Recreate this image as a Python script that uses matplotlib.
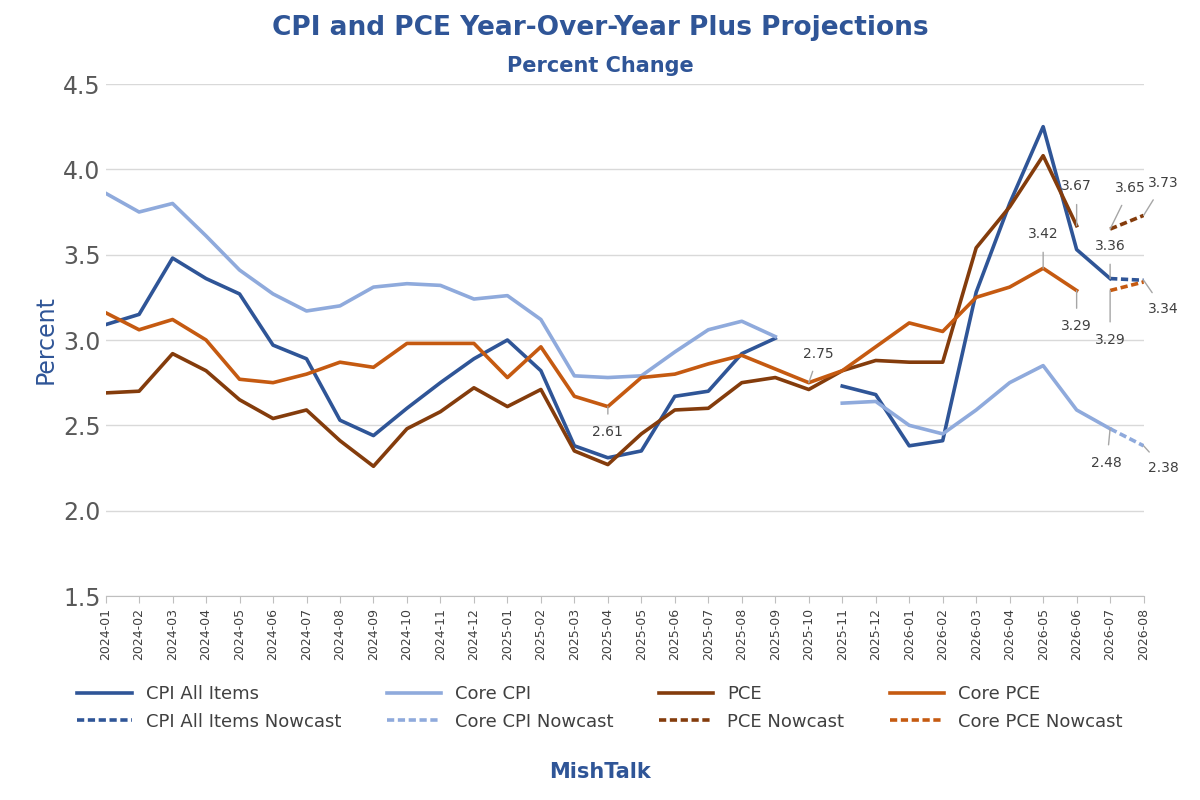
import matplotlib
matplotlib.use("Agg")
import matplotlib.pyplot as plt
import numpy as np

months = [f"{y}-{m:02d}" for y in (2024, 2025, 2026) for m in range(1, 13)][:32]
nan = np.nan
cpi = [3.09,3.15,3.48,3.36,3.27,2.97,2.89,2.53,2.44,2.60,2.75,2.89,3.00,2.82,2.38,2.31,2.35,2.67,2.70,2.92,3.01,nan,2.73,2.68,2.38,2.41,3.28,3.80,4.25,3.53,3.36,nan]
core_cpi = [3.86,3.75,3.80,3.61,3.41,3.27,3.17,3.20,3.31,3.33,3.32,3.24,3.26,3.12,2.79,2.78,2.79,2.93,3.06,3.11,3.02,nan,2.63,2.64,2.50,2.45,2.59,2.75,2.85,2.59,2.48,nan]
pce = [2.69,2.70,2.92,2.82,2.65,2.54,2.59,2.41,2.26,2.48,2.58,2.72,2.61,2.71,2.35,2.27,2.45,2.59,2.60,2.75,2.78,2.71,2.82,2.88,2.87,2.87,3.54,3.78,4.08,3.67,nan,nan]
core_pce = [3.16,3.06,3.12,3.00,2.77,2.75,2.80,2.87,2.84,2.98,2.98,2.98,2.78,2.96,2.67,2.61,2.78,2.80,2.86,2.91,2.83,2.75,2.82,2.96,3.10,3.05,3.25,3.31,3.42,3.29,nan,nan]
cpi_now = [3.36, 3.35]
core_cpi_now = [2.48, 2.38]
pce_now = [3.65, 3.73]
core_pce_now = [3.29, 3.34]
now_months = ["2026-07", "2026-08"]

c_cpi, c_ccpi, c_pce, c_cpce = "#2F5597", "#8FAADC", "#843C0C", "#C55A11"
x = np.arange(len(months))
xn = np.array([months.index(m) for m in now_months])

fig = plt.figure(figsize=(12, 8), dpi=100)
ax = fig.add_axes([0.088, 0.255, 0.865, 0.64])
lw = 2.6
h = {}
h[0], = ax.plot(x, cpi, color=c_cpi, lw=lw, label="CPI All Items")
h[1], = ax.plot(x, core_cpi, color=c_ccpi, lw=lw, label="Core CPI")
h[2], = ax.plot(x, pce, color=c_pce, lw=lw, label="PCE")
h[3], = ax.plot(x, core_pce, color=c_cpce, lw=lw, label="Core PCE")
h[4], = ax.plot(xn, cpi_now, color=c_cpi, lw=lw, ls=(0, (2, 1)), label="CPI All Items Nowcast")
h[5], = ax.plot(xn, core_cpi_now, color=c_ccpi, lw=lw, ls=(0, (2, 1)), label="Core CPI Nowcast")
h[6], = ax.plot(xn, pce_now, color=c_pce, lw=lw, ls=(0, (2, 1)), label="PCE Nowcast")
h[7], = ax.plot(xn, core_pce_now, color=c_cpce, lw=lw, ls=(0, (2, 1)), label="Core PCE Nowcast")

ax.set_xlim(0, len(months) - 1)
ax.set_ylim(1.5, 4.5)
ax.set_yticks(np.arange(1.5, 4.51, 0.5))
ax.set_yticklabels([f"{v:.1f}" for v in np.arange(1.5, 4.51, 0.5)], fontsize=17, color="#595959")
ax.set_xticks(x)
ax.set_xticklabels(months, rotation=90, fontsize=9, color="#404040")
ax.grid(axis="y", color="#D9D9D9", lw=1)
ax.tick_params(axis="y", length=0)
ax.tick_params(axis="x", length=5, color="#BFBFBF")
for s in ("top", "right", "left"):
    ax.spines[s].set_visible(False)
ax.spines["bottom"].set_color("#BFBFBF")
ax.set_axisbelow(True)
ax.set_ylabel("Percent", fontsize=17, color=c_cpi)

def ann(xi, yi, txt, tx, ty):
    ax.annotate(txt, (xi, yi), xytext=(tx, ty), textcoords="data", fontsize=10, color="#404040",
                ha="center", va="center",
                arrowprops=dict(arrowstyle="-", color="#A6A6A6", lw=1, shrinkA=6, shrinkB=0))

ann(15, core_pce[15], "2.61", 15.0, 2.46)
ann(21, core_pce[21], "2.75", 21.3, 2.92)
ann(29, pce[29], "3.67", 29.0, 3.90)
ann(28, core_pce[28], "3.42", 28.0, 3.62)
ann(29, core_pce[29], "3.29", 29.0, 3.08)
ann(30, pce_now[0], "3.65", 30.6, 3.89)
ann(31, pce_now[1], "3.73", 31.6, 3.92)
ann(30, cpi_now[0], "3.36", 30.0, 3.55)
ann(30, core_pce_now[0], "3.29", 30.0, 3.00)
ann(31, cpi_now[1], "3.34", 31.6, 3.18)
ann(30, core_cpi_now[0], "2.48", 29.9, 2.28)
ann(31, core_cpi_now[1], "2.38", 31.6, 2.25)

fig.text(0.5, 0.965, "CPI and PCE Year-Over-Year Plus Projections", ha="center", va="center",
         fontsize=19, fontweight="bold", color=c_cpi)
fig.text(0.5, 0.918, "Percent Change", ha="center", va="center", fontsize=15, fontweight="bold", color=c_cpi)
order = [0, 4, 1, 5, 2, 6, 3, 7]
fig.legend([h[i] for i in order], [h[i].get_label() for i in order], loc="center",
           bbox_to_anchor=(0.5, 0.115), ncol=4, frameon=False, fontsize=13,
           handlelength=3, columnspacing=2.5, labelcolor="#404040")
fig.text(0.5, 0.035, "MishTalk", ha="center", va="center", fontsize=15, fontweight="bold", color=c_cpi)
fig.savefig("out.png", dpi=100, facecolor="white")
